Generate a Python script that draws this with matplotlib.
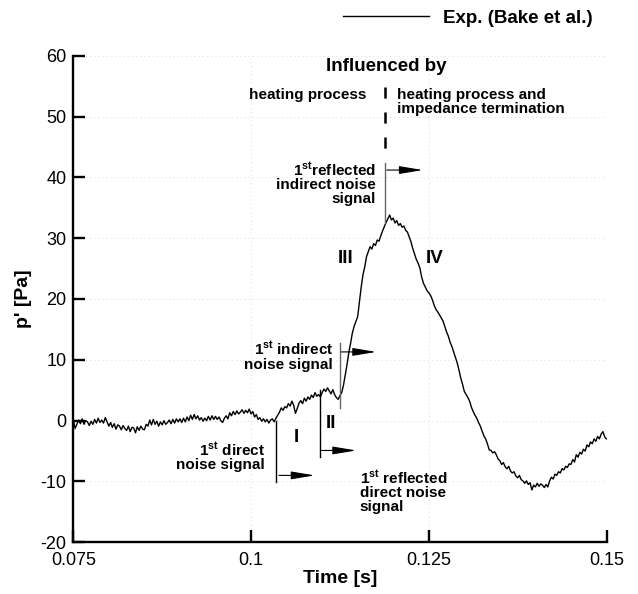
import numpy as np
import matplotlib
matplotlib.use("Agg")
import matplotlib.pyplot as plt

plt.rcParams['font.family'] = ['Liberation Sans', 'DejaVu Sans']
plt.rcParams['mathtext.fontset'] = 'custom'
plt.rcParams['mathtext.rm'] = 'Liberation Sans'
plt.rcParams['mathtext.bf'] = 'Liberation Sans:bold'
plt.rcParams['mathtext.it'] = 'Liberation Sans:italic'
plt.rcParams['lines.scale_dashes'] = False
plt.rcParams['axes.unicode_minus'] = False

# ---- measured pressure signal (sampled every 0.25 ms) ----
t_start, t_end = 0.075, 0.15
pressure = [
    # 0.0750 - 0.0798
    0.2, -1.3, -0.6, 0.1, -0.5, 0.3, -0.6, 0.0, -0.2, -0.8,
    -0.1, -0.6, 0.2, -0.4, 0.4, -0.3, 0.1, -0.4, 0.5, -0.2,
    # 0.0800 - 0.0848
    -0.9, -0.3, -1.1, -0.5, -1.4, -0.7, -0.9, -1.5, -0.8, -1.3,
    -1.6, -0.9, -1.8, -1.1, -1.2, -2.0, -1.0, -1.6, -0.9, -1.4,
    # 0.0850 - 0.0898
    -1.5, -0.6, -0.9, 0.1, -0.7, 0.2, -0.6, -0.1, -0.9, -0.2,
    -0.7, 0.0, -0.6, -0.3, 0.1, -0.5, 0.2, -0.4, 0.3, -0.2,
    # 0.0900 - 0.0948
    0.3, -0.3, 0.4, -0.2, 0.6, 0.0, 0.9, 0.2, 1.0, 0.3,
    0.8, 0.1, 0.5, -0.1, 0.4, 0.0, 0.7, 0.1, 0.8, 0.2,
    # 0.0950 - 0.0998
    0.7, 0.2, 0.6, 0.0, -0.3, 0.4, 0.8, 0.3, 1.3, 0.8,
    1.5, 1.0, 1.6, 1.1, 1.4, 1.8, 1.2, 1.7, 1.3, 1.9,
    # 0.1000 - 0.1048
    1.1, 1.5, 0.6, 1.0, 0.2, 0.5, -0.1, 0.3, -0.2, 0.2,
    -0.4, 0.1, 0.3, -0.2, 0.4, 0.9, 1.4, 2.1, 1.7, 2.3,
    # 0.1050 - 0.1098
    2.1, 2.8, 2.4, 3.2, 2.5, 1.2, 2.0, 2.9, 3.3, 2.8,
    3.7, 3.2, 3.9, 3.5, 4.2, 3.8, 4.6, 4.0, 4.3, 3.9,
    # 0.1100 - 0.1148
    4.6, 5.2, 4.8, 5.4, 4.9, 4.4, 5.1, 4.3, 3.8, 3.5,
    4.1, 4.6, 5.8, 7.5, 9.2, 11.2, 12.7, 14.4, 15.5, 16.3,
    # 0.1150 - 0.1198
    17.1, 19.5, 22.0, 24.0, 25.3, 27.0, 27.8, 28.6, 28.2, 29.1,
    28.8, 29.7, 29.5, 30.4, 31.2, 31.9, 32.6, 33.2, 33.8, 33.0,
    # 0.1200 - 0.1248
    33.3, 32.5, 32.9, 32.1, 32.4, 31.8, 32.0, 31.3, 31.0, 30.2,
    29.4, 28.3, 27.4, 26.5, 25.9, 25.1, 23.6, 22.6, 22.0, 21.4,
    # 0.1250 - 0.1298
    21.0, 20.6, 19.9, 19.0, 18.3, 17.9, 17.4, 16.9, 16.4, 15.5,
    14.6, 13.9, 12.9, 12.2, 11.3, 10.4, 9.5, 8.3, 7.0, 6.0,
    # 0.1300 - 0.1348
    4.8, 4.3, 3.8, 3.2, 2.2, 1.5, 0.9, 0.4, -0.3, -0.9,
    -1.7, -2.5, -3.0, -3.8, -4.8, -4.9, -5.3, -5.1, -5.6, -6.3,
    # 0.1350 - 0.1398
    -6.6, -7.2, -6.9, -7.6, -7.9, -7.5, -8.3, -8.6, -8.4, -9.1,
    -9.4, -9.0, -9.7, -9.9, -10.3, -9.9, -10.5, -10.2, -11.4, -10.6,
    # 0.1400 - 0.1448
    -10.9, -10.3, -10.8, -10.4, -10.6, -11.0, -10.5, -10.9, -9.9, -9.3,
    -9.6, -8.8, -9.0, -8.4, -8.6, -7.9, -8.1, -7.5, -7.7, -7.1,
    # 0.1450 - 0.1498
    -7.2, -6.4, -6.8, -5.6, -6.0, -5.2, -5.5, -4.7, -5.0, -4.0,
    -4.3, -3.5, -3.8, -3.0, -3.4, -2.6, -3.0, -2.2, -1.8, -2.7,
    # 0.1500
    -3.0,
]
time = np.linspace(t_start, t_end, len(pressure))

x_ticks = [0.075, 0.1, 0.125, 0.15]
x_tick_labels = ['0.075', '0.1', '0.125', '0.15']
y_ticks = [-20, -10, 0, 10, 20, 30, 40, 50, 60]

# signal arrival markers: time, vertical extent (p top, p bottom), arrow level, arrow span
marker_times = [0.10355, 0.10969, 0.11256, 0.11878]
marker_tops = [0.0, 5.0, 12.7, 42.3]
marker_bottoms = [-10.1, -6.0, 2.0, 32.5]
arrow_levels = [-9.0, -4.9, 11.3, 41.2]
arrow_starts = [0.10393, 0.10979, 0.11270, 0.11910]
arrow_ends = [0.10895, 0.11480, 0.11761, 0.12416]
marker_colors = ['black', 'black', '#666666', '#666666']

divider_time = 0.11878
divider_range = (54.9, 44.6)

fig = plt.figure(figsize=(6.38, 5.94), dpi=100)
W, H = 638, 594
ax = fig.add_axes([73.3 / W, 1 - 542.3 / H, (606.5 - 73.3) / W, (542.3 - 55.7) / H])

ax.plot(time, pressure, color='black', lw=1.0, label='Exp. (Bake et al.)')

ax.set_xlim(0.075, 0.15)
ax.set_ylim(-20, 60)
ax.set_xticks(x_ticks)
ax.set_xticklabels(x_tick_labels)
ax.set_yticks(y_ticks)
ax.grid(True, color='#e4e4e4', linestyle=(0, (1, 2)), lw=0.7)
ax.set_axisbelow(True)

for s in ['top', 'right']:
    ax.spines[s].set_visible(False)
for s in ['left', 'bottom']:
    ax.spines[s].set_linewidth(1.7)
ax.tick_params(direction='in', length=8.9, width=1.7, labelsize=13)
ax.tick_params(axis='x', pad=7)
ax.tick_params(axis='y', pad=5)

ax.set_xlabel('Time [s]', fontsize=14, fontweight='bold', labelpad=1)
ax.set_ylabel("p' [Pa]", fontsize=14, fontweight='bold', labelpad=6)

# markers and arrows
for tm, top, bot, lvl, a0, a1, c in zip(marker_times, marker_tops, marker_bottoms,
                                       arrow_levels, arrow_starts, arrow_ends, marker_colors):
    ax.plot([tm, tm], [top, bot], color=c, lw=1.0)
    ax.annotate('', xy=(a1, lvl), xytext=(a0, lvl),
                arrowprops=dict(arrowstyle='-|>,head_length=1.44,head_width=0.24',
                                mutation_scale=10, color='black', lw=0.8,
                                shrinkA=0, shrinkB=0))

# divider between regions
ax.plot([divider_time, divider_time], list(divider_range), color='black', lw=1.8,
        dashes=(8, 10))

bold = dict(fontweight='bold', fontsize=11)
ax.text(0.11906, 58.2, 'Influenced by', ha='center', va='center', fontweight='bold', fontsize=13.5)
ax.text(0.11621, 53.5, 'heating process', ha='right', va='center', **bold)
ax.text(0.12056, 52.4, 'heating process and\nimpedance termination', ha='left', va='center',
        linespacing=1.05, **bold)
ax.text(0.11761, 39.0, '1$^{\\mathbf{st}}$reflected\nindirect noise\nsignal', ha='right', va='center',
        multialignment='right', linespacing=1.0, **bold)
ax.text(0.11155, 10.6, '1$^{\\mathbf{st}}$ indirect\nnoise signal', ha='right', va='center',
        multialignment='right', linespacing=1.0, **bold)
ax.text(0.10192, -5.9, '1$^{\\mathbf{st}}$ direct\nnoise signal', ha='right', va='center',
        multialignment='right', linespacing=1.0, **bold)
ax.text(0.11527, -11.6, '1$^{\\mathbf{st}}$ reflected\ndirect noise\nsignal', ha='left', va='center',
        multialignment='left', linespacing=1.0, **bold)

roman = dict(fontweight='bold', fontsize=13.5, ha='center', va='center')
ax.text(0.10638, -2.7, 'I', **roman)
ax.text(0.11129, -0.5, 'II', **roman)
ax.text(0.1133, 26.7, 'III', **roman)
ax.text(0.1258, 26.7, 'IV', **roman)

leg = ax.legend(loc='center right', bbox_to_anchor=(593 / W, 1 - 18 / H),
                bbox_transform=fig.transFigure, frameon=False,
                handlelength=4.6, handletextpad=0.75, borderaxespad=0, borderpad=0,
                prop=dict(weight='bold', size=13.5, family=['Liberation Sans', 'DejaVu Sans']))

fig.savefig('out.png', dpi=100)
